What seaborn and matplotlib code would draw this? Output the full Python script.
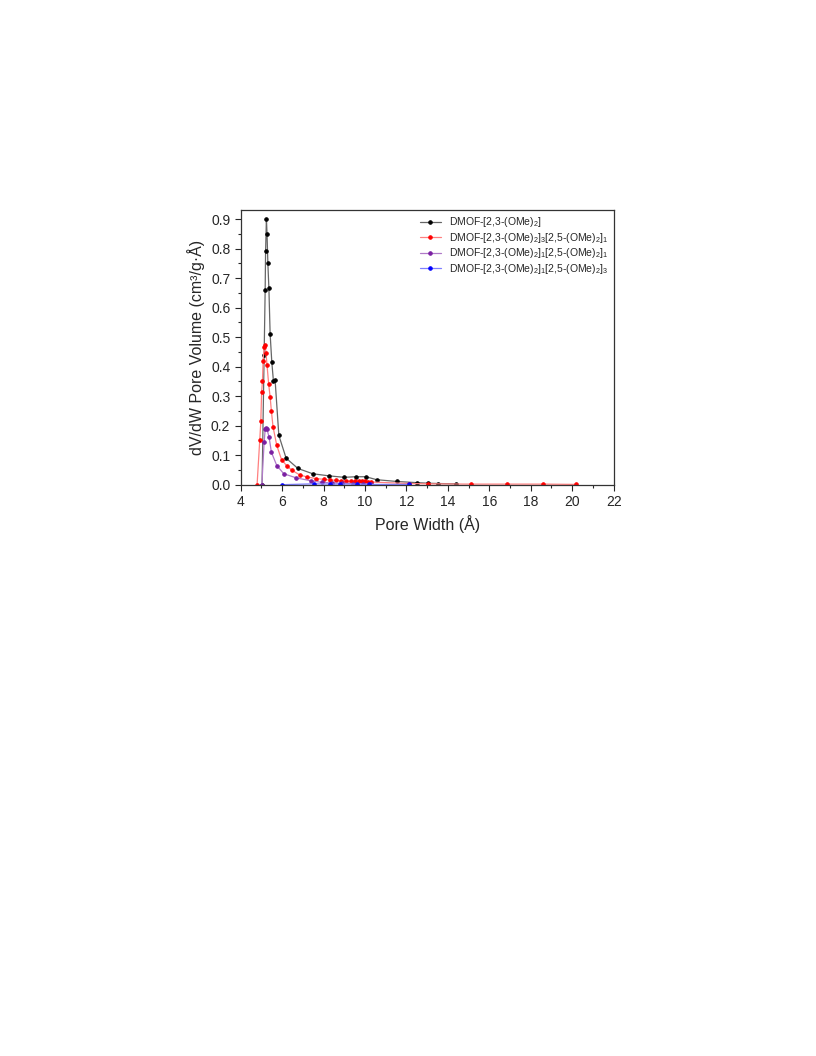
import matplotlib
matplotlib.use("Agg")
import pandas as pd
import seaborn as sns
import matplotlib.pyplot as plt
from matplotlib.ticker import MultipleLocator

# DMOF-[2,3-(OMe)2]
ancho_negro = [5.03, 5.13, 5.18, 5.20, 5.24, 5.27, 5.31, 5.36, 5.42, 5.50, 5.58, 5.66,
               5.84, 6.19, 6.76, 7.48, 8.26, 8.99, 9.56, 10.04, 10.56, 11.52, 12.49,
               13.06, 13.54, 14.38]
vol_negro = [0.0, 0.44, 0.66, 0.79, 0.90, 0.85, 0.75, 0.665, 0.51, 0.416, 0.35, 0.354,
             0.167, 0.09, 0.055, 0.037, 0.030, 0.025, 0.027, 0.027, 0.017, 0.011, 0.007,
             0.005, 0.004, 0.003]

# DMOF-[2,3-(OMe)2]3[2,5-(OMe)2]1
ancho_rojo = [4.79, 4.92, 4.97, 5.01, 5.05, 5.08, 5.13, 5.18, 5.22, 5.27, 5.35, 5.42,
              5.48, 5.56, 5.74, 5.97, 6.21, 6.47, 6.85, 7.22, 7.62, 8.02, 8.3, 8.6,
              8.85, 9.1, 9.3, 9.5, 9.7, 9.85, 10.0, 10.15, 10.3, 12.1, 13.05, 15.1,
              16.86, 18.57, 20.2]
vol_rojo = [0.0, 0.153, 0.215, 0.315, 0.35, 0.42, 0.468, 0.474, 0.445, 0.405, 0.34, 0.297,
            0.25, 0.196, 0.133, 0.085, 0.065, 0.049, 0.033, 0.026, 0.021, 0.018, 0.016,
            0.015, 0.013, 0.013, 0.012, 0.012, 0.012, 0.012, 0.011, 0.010, 0.009, 0.004,
            0.003, 0.002, 0.002, 0.002, 0.001]

# DMOF-[2,3-(OMe)2]1[2,5-(OMe)2]1
ancho_morado = [5.02, 5.13, 5.18, 5.22, 5.27, 5.37, 5.48, 5.74, 6.08, 6.69, 7.41, 7.9,
                8.4, 8.9, 9.4, 9.9, 10.3]
vol_morado = [0.0, 0.144, 0.187, 0.193, 0.187, 0.161, 0.11, 0.065, 0.037, 0.023, 0.013,
              0.008, 0.006, 0.005, 0.004, 0.003, 0.002]

# DMOF-[2,3-(OMe)2]1[2,5-(OMe)2]3
ancho_azul = [5.97, 7.55, 8.3, 8.8, 9.6, 10.2, 12.1]
vol_azul = [0.0, 0.003, 0.002, 0.002, 0.002, 0.001, 0.001]

etiquetas = [
    "DMOF-[2,3-(OMe)$_2$]",
    "DMOF-[2,3-(OMe)$_2$]$_3$[2,5-(OMe)$_2$]$_1$",
    "DMOF-[2,3-(OMe)$_2$]$_1$[2,5-(OMe)$_2$]$_1$",
    "DMOF-[2,3-(OMe)$_2$]$_1$[2,5-(OMe)$_2$]$_3$",
]
colores_linea = ["#666666", "#ff8080", "#b07ac8", "#7f7fff"]
colores_punto = ["#000000", "#ff0000", "#7a1fa2", "#0000ff"]

series = [
    (ancho_negro, vol_negro),
    (ancho_rojo, vol_rojo),
    (ancho_morado, vol_morado),
    (ancho_azul, vol_azul),
]

sns.set_style("ticks")
plt.rcParams["font.family"] = ["Liberation Sans", "DejaVu Sans"]
plt.rcParams["mathtext.default"] = "regular"

fig = plt.figure(figsize=(8.16, 10.56), dpi=100)
ax = fig.add_axes([0.295, 0.541, 0.457, 0.260])

for (x, y), etiqueta, cl, cp in zip(series, etiquetas, colores_linea, colores_punto):
    df = pd.DataFrame({"ancho": x, "vol": y})
    sns.lineplot(data=df, x="ancho", y="vol", ax=ax, color=cl, linewidth=0.9,
                 marker="o", markersize=2.5, markerfacecolor=cp, markeredgecolor=cp,
                 label=etiqueta)

ax.set_xlim(4, 22)
ax.set_ylim(0, 0.93)
ax.xaxis.set_major_locator(MultipleLocator(2))
ax.xaxis.set_minor_locator(MultipleLocator(1))
ax.yaxis.set_major_locator(MultipleLocator(0.1))
ax.yaxis.set_minor_locator(MultipleLocator(0.05))
ax.yaxis.set_major_formatter(matplotlib.ticker.FormatStrFormatter("%.1f"))
ax.tick_params(which="major", direction="out", length=4, width=0.8, labelsize=10)
ax.tick_params(which="minor", direction="out", length=2.5, width=0.8)
for s in ax.spines.values():
    s.set_linewidth(0.9)
    s.set_color("#333333")

ax.set_xlabel("Pore Width (Å)", fontsize=11.5)
ax.set_ylabel("dV/dW Pore Volume (cm³/g·Å)", fontsize=11.5)

ax.legend(loc="upper right", frameon=False, fontsize=7.5, handlelength=2.0,
          labelspacing=0.15, borderaxespad=0.2, borderpad=0.3)

fig.savefig("out.png", dpi=100)
